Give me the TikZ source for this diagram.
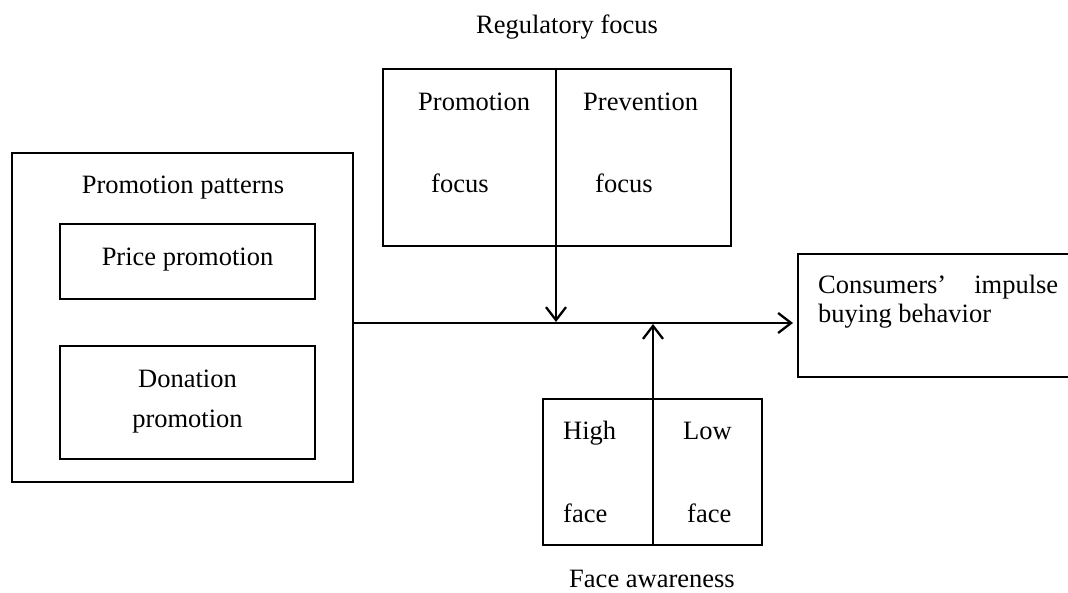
\documentclass[tikz,border=0pt]{standalone}
\usepackage{fontspec}
\setmainfont{Liberation Serif}
\usetikzlibrary{arrows.meta}
\begin{document}
\begin{tikzpicture}[x=1pt,y=-1pt,
  every node/.style={font=\fontsize{26.5}{29}\selectfont, inner sep=0pt},
  outerbox/.style={draw, line width=2pt, rectangle},
  innerbox/.style={draw, line width=1.3pt, rectangle},
  lbl/.style={anchor=base west},
  clbl/.style={anchor=base},
  arr/.style={line width=2.5pt, -{Straight Barb[length=13pt,width=20pt,line width=2.3pt]}}]
\useasboundingbox (0,0) rectangle (1068,592);
\clip (0,0) rectangle (1068,592);
% left box
\node[outerbox, minimum width=341pt, minimum height=329pt] (pp) at (182.5,317.5) {};
\node[clbl] (ppt) at (183,193) {Promotion patterns};
\node[innerbox, minimum width=255pt, minimum height=75pt] (price) at (187.5,261.5) {};
\node[clbl] (pricet) at (187.5,265) {Price promotion};
\node[innerbox, minimum width=255pt, minimum height=113pt] (don) at (187.5,402.5) {};
\node[clbl] (dont1) at (187.5,387) {Donation};
\node[clbl] (dont2) at (187.5,427) {promotion};
% regulatory focus
\node[clbl] (rft) at (567,33) {Regulatory focus};
\node[innerbox, minimum width=348pt, minimum height=177pt] (reg) at (557,157.5) {};
\node[lbl] (pr1) at (418,110) {Promotion};
\node[lbl] (pr2) at (431,192) {focus};
\node[lbl] (pv1) at (583,110) {Prevention};
\node[lbl] (pv2) at (595,192) {focus};
% face awareness
\node[innerbox, minimum width=219pt, minimum height=146pt] (face) at (652.5,472) {};
\node[lbl] (hi1) at (563,439) {High};
\node[lbl] (hi2) at (563,522) {face};
\node[lbl] (lo1) at (683,439) {Low};
\node[lbl] (lo2) at (687,522) {face};
\node[clbl] (fat) at (652,587) {Face awareness};
% consumers
\node[outerbox, minimum width=282pt, minimum height=123pt] (cons) at (939,315.5) {};
\node[anchor=north west, text width=240pt, align=justify] (const) at (818,275) {Consumers’ impulse buying behavior};
% connectors
\coordinate (regtop) at (556,69);
\coordinate (regtip) at (556,322);
\coordinate (facebot) at (653,545);
\coordinate (facetip) at (653,324);
\coordinate (mainstart) at (pp.east |- 0,323);
\coordinate (mainend) at (793,323);
\draw[arr] (mainstart) -- (mainend);
\draw[line width=2.2pt] (regtop) -- (556,246);
\draw[arr] (556,246) -- (regtip);
\draw[arr] (facebot) -- (facetip);
\end{tikzpicture}
\end{document}
